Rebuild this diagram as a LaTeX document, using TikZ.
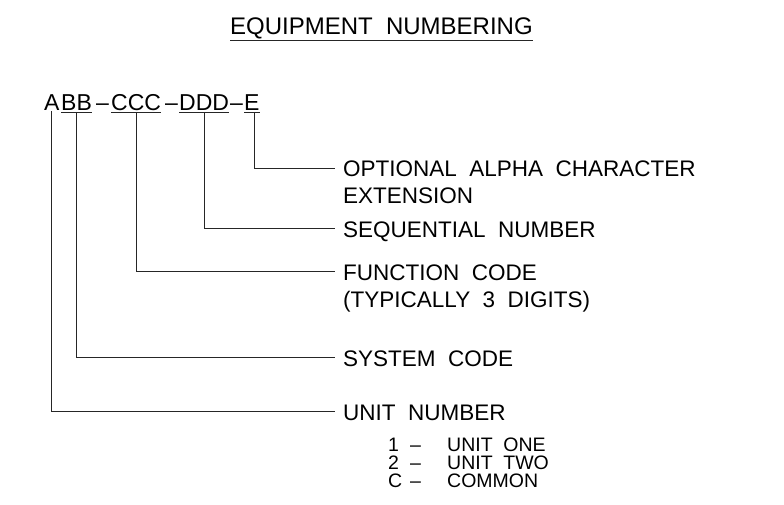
\documentclass[tikz,border=0pt]{standalone}
\usepackage{fontspec}
\setmainfont{Liberation Sans}
\usetikzlibrary{positioning}
\newcommand{\wgap}{\hspace{0.55em}}

\begin{document}
\begin{tikzpicture}[x=1pt,y=-1pt,
  lead/.style={line width=0.9pt,black!85},
  codeltr/.style={inner sep=0pt,anchor=base west,font=\fontsize{23}{27}\selectfont},
  lbl/.style={inner sep=0pt,anchor=base west,align=left,font=\fontsize{22.5}{27}\selectfont},
  sub/.style={inner sep=0pt,anchor=base west,align=left,font=\fontsize{19.5}{18}\selectfont}]
  \useasboundingbox (0,0) rectangle (784,505);
  % title
  \node[inner sep=0pt,anchor=base west,font=\fontsize{24}{28}\selectfont] (title) at (230,35) {EQUIPMENT\wgap NUMBERING};
  \draw[lead] ([yshift=-5pt]title.base west) -- ([yshift=-5pt]title.base east);
  % the number ABB-CCC-DDD-E
  \node[codeltr] (cA) at (44,111) {A};
  \node[codeltr] (cB) at (61,111) {BB};
  \node[codeltr] (d1) at (96,111) {–};
  \node[codeltr] (cC) at (111,111) {CCC};
  \node[codeltr] (d2) at (165,111) {–};
  \node[codeltr] (cD) at (179,111) {DDD};
  \node[codeltr] (d3) at (230,111) {–};
  \node[codeltr] (cE) at (244,111) {E};
  \foreach \c in {cB,cC,cD,cE}
    \draw[lead] ([yshift=-1.5pt]\c.base west) -- ([yshift=-1.5pt]\c.base east);
  % leader ends
  \coordinate (eE) at (335,168);
  \coordinate (eD) at (335,228);
  \coordinate (eC) at (335,271);
  \coordinate (eB) at (335,357);
  \coordinate (eA) at (335,411);
  \draw[lead] ([xshift=3pt,yshift=-1.5pt]cE.base) |- (eE);
  \draw[lead] ([yshift=-1.5pt]cD.base) |- (eD);
  \draw[lead] ([yshift=-1.5pt]cC.base) |- (eC);
  \draw[lead] ([yshift=-1.5pt]cB.base) |- (eB);
  \draw[lead] (cA.base) |- (eA);
  % labels (base of a two line label is its last line)
  \node[lbl] (lE) at ([xshift=8pt,yshift=-36pt]eE) {OPTIONAL\wgap ALPHA\wgap CHARACTER\\EXTENSION};
  \node[lbl] (lD) at ([xshift=8pt,yshift=-9pt]eD) {SEQUENTIAL\wgap NUMBER};
  \node[lbl] (lC) at ([xshift=8pt,yshift=-36pt]eC) {FUNCTION\wgap CODE\\(TYPICALLY\wgap 3\wgap DIGITS)};
  \node[lbl] (lB) at ([xshift=8pt,yshift=-9pt]eB) {SYSTEM\wgap CODE};
  \node[lbl] (lA) at ([xshift=8pt,yshift=-9pt]eA) {UNIT\wgap NUMBER};
  % unit values
  \node[sub] (uNum) at ([xshift=45pt,yshift=-67pt]lA.base west) {1\\2\\C};
  \node[sub] (uDash) at ([xshift=22pt]uNum.base west) {–\\–\\–};
  \node[sub] (uText) at ([xshift=59pt]uNum.base west) {UNIT\wgap ONE\\UNIT\wgap TWO\\COMMON};
\end{tikzpicture}
\end{document}
